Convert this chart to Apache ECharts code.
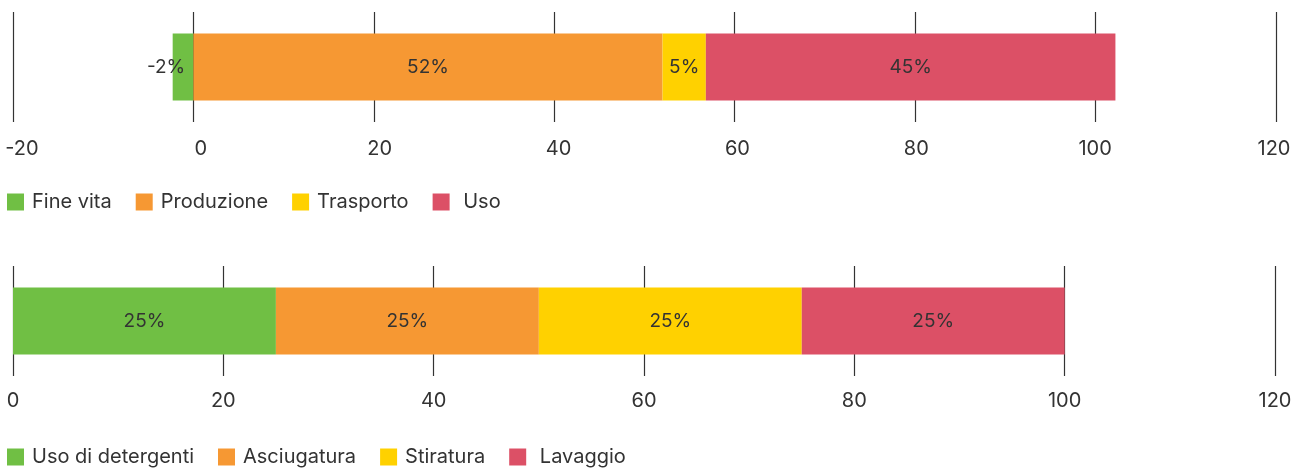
<!DOCTYPE html>
<html>
<head>
<meta charset="utf-8">
<script src="https://cdn.jsdelivr.net/npm/echarts@6/dist/echarts.min.js"></script>
<style>
html,body{margin:0;padding:0;background:#fff;}
#chart{width:1302px;height:469px;}
</style>
</head>
<body>
<div id="chart"></div>
<script>
// ---- data ----
const topCategories = ['Fine vita', 'Produzione', 'Trasporto', 'Uso'];
const topValues = [-2.3, 52.0, 4.8, 45.4];
const bottomCategories = ['Uso di detergenti', 'Asciugatura', 'Stiratura', 'Lavaggio'];
const bottomValues = [25, 25, 25, 25];
const topAxisRange = [-20, 120];
const bottomAxisRange = [0, 120];
const axisStep = 20;

const colors = ['#70bf44', '#f69833', '#ffd100', '#dc5066'];
const FONT = 'Inter';
const TXT = '#333333';

const chart = echarts.init(document.getElementById('chart'), null, {renderer: 'canvas'});

function makeSeries(names, values, axisIdx, stack) {
  return names.map((n, i) => ({
    name: n,
    type: 'bar',
    stack: stack,
    xAxisIndex: axisIdx,
    yAxisIndex: axisIdx,
    barWidth: 67,
    itemStyle: {color: colors[i]},
    label: {
      show: true,
      position: 'inside',
      offset: values[i] < 0 ? [-17, 0] : [0, 0],
      color: TXT,
      fontFamily: FONT,
      fontSize: 19,
      formatter: p => Math.round(p.value) + '%'
    },
    emphasis: {disabled: true},
    data: [values[i]]
  }));
}

function legendFmt(names) {
  return name => (name === names[names.length - 1] ? ' ' + name : name);
}

const legendBase = {
  left: 7, icon: 'rect', itemWidth: 17, itemHeight: 17, itemGap: 24, padding: 0,
  selectedMode: false,
  textStyle: {color: TXT, fontFamily: FONT, fontSize: 20, padding: [0, 0, 0, 3]}
};

const option = {
  animation: false,
  textStyle: {fontFamily: FONT},
  grid: [
    {left: 13, right: 26, top: 12, height: 110},
    {left: 22, right: 28, top: 12, height: 110},
    {left: 13, right: 27, top: 266, height: 110}
  ],
  xAxis: [
    {gridIndex: 0, type: 'value', min: topAxisRange[0], max: topAxisRange[1], interval: axisStep,
     axisLine: {show: false}, axisTick: {show: false}, axisLabel: {show: false},
     splitLine: {show: true, lineStyle: {color: '#333', width: 1.2}}},
    {gridIndex: 1, type: 'value', min: topAxisRange[0], max: topAxisRange[1], interval: axisStep,
     axisLine: {show: false}, axisTick: {show: false}, splitLine: {show: false},
     axisLabel: {show: true, color: TXT, fontFamily: FONT, fontSize: 20, margin: 17}},
    {gridIndex: 2, type: 'value', min: bottomAxisRange[0], max: bottomAxisRange[1], interval: axisStep,
     axisLine: {show: false}, axisTick: {show: false},
     axisLabel: {show: true, color: TXT, fontFamily: FONT, fontSize: 20, margin: 15},
     splitLine: {show: true, lineStyle: {color: '#333', width: 1.2}}}
  ],
  yAxis: [
    {gridIndex: 0, type: 'category', data: [''], show: false},
    {gridIndex: 1, type: 'category', data: [''], show: false},
    {gridIndex: 2, type: 'category', data: [''], show: false}
  ],
  legend: [
    Object.assign({}, legendBase, {data: topCategories, top: 192, formatter: legendFmt(topCategories)}),
    Object.assign({}, legendBase, {data: bottomCategories, top: 447, formatter: legendFmt(bottomCategories)})
  ],
  series: [].concat(
    makeSeries(topCategories, topValues, 0, 'top'),
    makeSeries(bottomCategories, bottomValues, 2, 'bottom')
  )
};
chart.setOption(option);
</script>
</body>
</html>
